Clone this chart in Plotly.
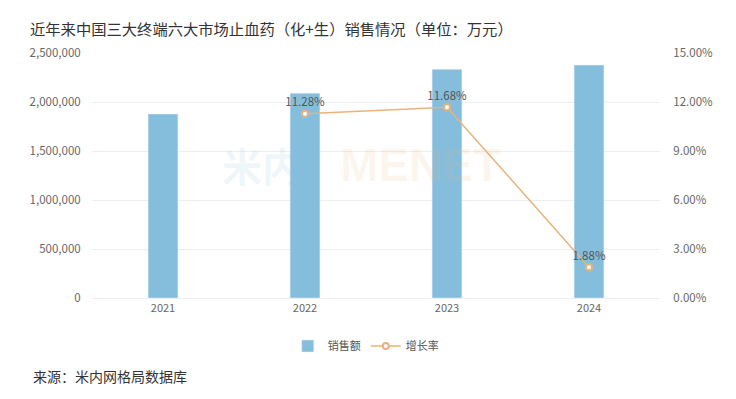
import plotly.graph_objects as go

years = ["2021", "2022", "2023", "2024"]
sales = [1877000, 2089000, 2333000, 2377000]
growth = [None, 11.28, 11.68, 1.88]
growth_labels = ["", "11.28%", "11.68%", "1.88%"]

FONT = "Noto Sans CJK SC, Microsoft YaHei, sans-serif"
BAR = "#85BEDC"
LINE = "#E8B37A"

fig = go.Figure()
fig.add_trace(go.Bar(
    x=years, y=sales, name="销售额", marker_color=BAR, width=0.21,
    yaxis="y",
))
fig.add_trace(go.Scatter(
    x=years, y=growth, name="增长率", mode="lines+markers+text",
    line=dict(color=LINE, width=1.5),
    marker=dict(symbol="circle", size=6, color="white", line=dict(color=LINE, width=2)),
    text=growth_labels, textposition="top center",
    textfont=dict(color="#555555", size=11.5, family=FONT),
    yaxis="y2", connectgaps=False,
))

fig.update_layout(
    width=736, height=399,
    margin=dict(l=92, r=76, t=53, b=101),
    paper_bgcolor="white", plot_bgcolor="white",
    font=dict(family=FONT, color="#666666", size=11),
    title=dict(text="近年来中国三大终端六大市场止血药（化+生）销售情况（单位：万元）",
               xref="container", x=30/736, xanchor="left",
               yref="container", y=1-30/399, yanchor="middle",
               font=dict(size=15.3, color="#333333", family=FONT)),
    xaxis=dict(showgrid=False, showline=True, linecolor="#eeeeee", ticks="",
               tickfont=dict(size=11, color="#666666")),
    yaxis=dict(range=[0, 2500000], dtick=500000, tickformat=",d",
               gridcolor="#eeeeee", zeroline=False, showline=False,
               ticks="outside", ticklen=8, tickcolor="white",
               tickfont=dict(size=11.5, color="#666666")),
    yaxis2=dict(range=[0, 15], dtick=3, overlaying="y", side="right",
                ticksuffix="%", tickformat=".2f", showgrid=False, zeroline=False,
                ticks="outside", ticklen=10, tickcolor="white",
                tickfont=dict(size=11.5, color="#666666")),
    legend=dict(orientation="h", x=0.482, xanchor="center", y=-48/245, yanchor="middle",
                font=dict(size=11, color="#555555"), itemwidth=30),
    showlegend=True,
    bargap=0.8,
)

fig.add_annotation(text="<b>米内</b>", xref="paper", yref="paper",
                   x=(262-92)/568, y=(298-165)/245, xanchor="center", yanchor="middle",
                   showarrow=False, font=dict(size=40, color="rgba(133,190,220,0.13)", family=FONT))
fig.add_annotation(text="<b>MENET</b>", xref="paper", yref="paper",
                   x=(420-92)/568, y=(298-165)/245, xanchor="center", yanchor="middle",
                   showarrow=False, font=dict(size=46, color="rgba(232,179,122,0.12)", family="Liberation Sans"))

fig.add_annotation(text="来源：米内网格局数据库", xref="paper", yref="paper",
                   x=(31-92)/568, y=-(376-298)/245, xanchor="left", yanchor="middle",
                   showarrow=False, font=dict(size=14, color="#333333", family=FONT))

fig.write_html("out.html", config={"displayModeBar": False},
               post_script="document.body.style.margin='0';document.body.style.padding='0';")
